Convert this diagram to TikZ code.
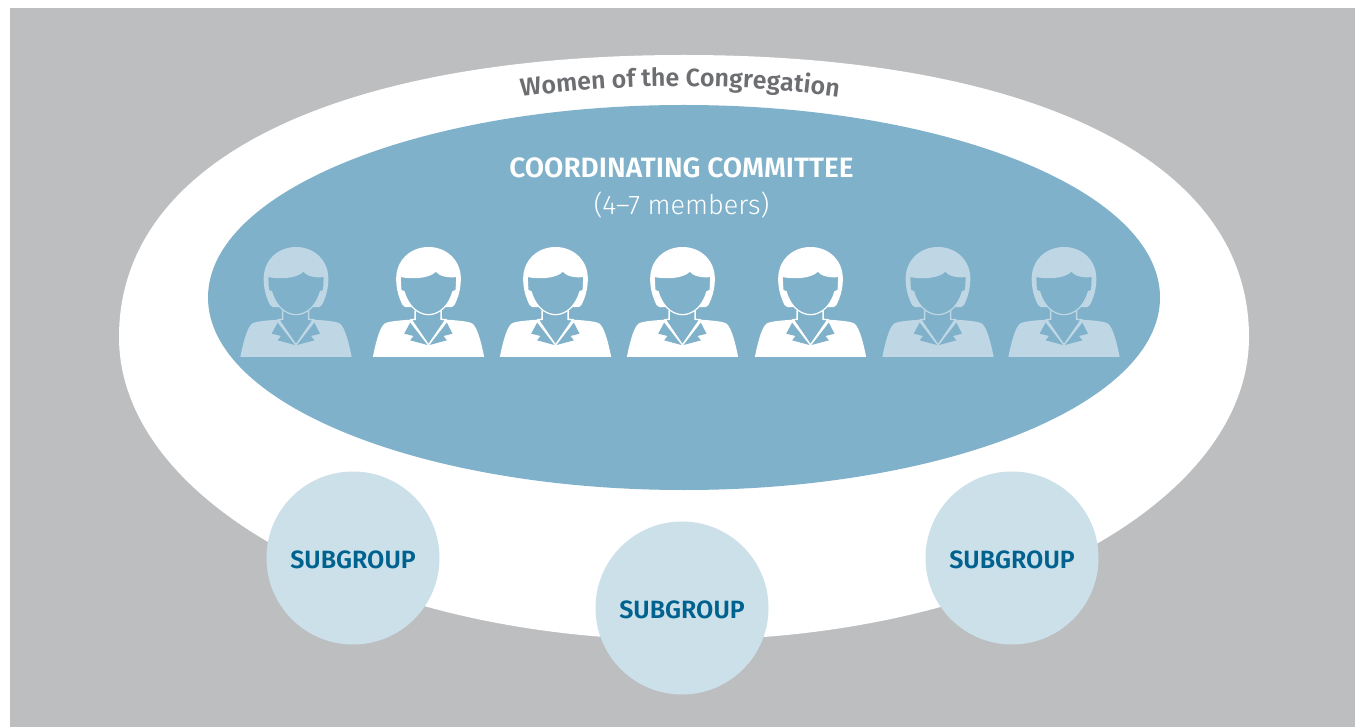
\documentclass[tikz,border=0pt]{standalone}
\usepackage{fontspec}
\setmainfont{Fira Sans}
\newfontfamily\lightfont{Fira Sans Light}
\newfontfamily\mediumfont{Fira Sans SemiBold}
\usetikzlibrary{shapes.geometric,decorations.text}
\definecolor{backgray}{HTML}{BCBEC0}
\definecolor{lakeblue}{HTML}{7FB1CA}
\definecolor{paleblue}{HTML}{CCE0EA}
\definecolor{fadedblue}{HTML}{BFD7E4}
\definecolor{deepblue}{HTML}{00628F}
\definecolor{titlegray}{HTML}{6D6E71}
\tikzset{
  subgroup/.style={circle, fill=paleblue, minimum size=173pt, inner sep=0pt, text=deepblue,
    text height=21.3pt, text depth=0pt, font=\fontsize{25}{30}\selectfont\mediumfont},
  pics/woman/.style={code={
    \begin{scope}[scale=1/3]
      \fill[#1] (-45,-150) -- (-70,-150) .. controls (-74,-150) and (-76,-152) .. (-78,-156)
        .. controls (-90,-180) and (-97,-205) .. (-97,-235)
        .. controls (-97,-290) and (-55,-330) .. (0,-330)
        .. controls (55,-330) and (97,-290) .. (97,-235)
        .. controls (97,-205) and (90,-180) .. (78,-156)
        .. controls (76,-152) and (74,-150) .. (70,-150) -- (45,-150) -- cycle;
      \fill[#1] (-40,-113) .. controls (-80,-110) and (-120,-108) .. (-132,-100)
        .. controls (-148,-88) and (-160,-35) .. (-167,0) -- (167,0)
        .. controls (160,-35) and (148,-88) .. (132,-100)
        .. controls (120,-108) and (80,-110) .. (40,-113) -- cycle;
      \fill[lakeblue] (-40,-150) -- (-40,-113) -- (-50,-110) -- (0,-38) -- (50,-110)
        -- (38,-113) -- (38,-150) -- cycle;
      \draw[#1, line width=1.4pt] (-40,-140) -- (-40,-113) -- (-52,-112) -- (0,-36)
        -- (52,-112) -- (38,-113) -- (38,-140);
      \fill[lakeblue] (-55,-103) -- (-73,-70) -- (-45,-63) -- (-55,-50) -- (-3,-36) -- cycle;
      \fill[lakeblue] (55,-103) -- (72,-70) -- (45,-63) -- (55,-50) -- (3,-36) -- cycle;
      \filldraw[fill=lakeblue, draw=#1, line width=1.2pt] (-85,-242)
        .. controls (-60,-236) and (0,-234) .. (22,-258)
        .. controls (32,-244) and (60,-238) .. (85,-242)
        -- (83,-200) -- (73,-196)
        .. controls (66,-170) and (50,-148) .. (36,-139)
        .. controls (24,-131) and (12,-127) .. (0,-127)
        .. controls (-12,-127) and (-24,-131) .. (-36,-139)
        .. controls (-50,-148) and (-66,-170) .. (-73,-196)
        -- (-83,-200) -- cycle;
    \end{scope}
  }}
}

\begin{document}
\begin{tikzpicture}[x=1pt, y=-1pt]
  \useasboundingbox (0,0) rectangle (1355,727);
  \fill[backgray] (10,8) rectangle (1355,727);
  \fill[white] (119,337) .. controls (119,156) and (345,55) .. (684,55)
    .. controls (1023,55) and (1249,156) .. (1249,337)
    .. controls (1249,504) and (996,640) .. (684,640)
    .. controls (372,640) and (119,504) .. (119,337) -- cycle;
  \node[ellipse, fill=lakeblue, minimum width=952pt, minimum height=385pt, inner sep=0pt] (committee) at (684,297.5) {};
  \path[decorate, decoration={text along path, text align=center,
    text={|\fontsize{25}{30}\mediumfont\color{titlegray}|Women of the Congregation}}]
    (507.5,99) .. controls (617.5,82) and (742.5,82) .. (852.5,99);
  \node[text=white, font=\fontsize{28}{33}\selectfont\mediumfont] (title) at (681.5,168) {COORDINATING COMMITTEE};
  \node[text=white, font=\fontsize{27}{32}\selectfont\lightfont] (members) at (681.5,205) {(4–7 members)};
  \pic (w1) at (296,357) {woman=fadedblue};
  \pic (w2) at (428.5,357) {woman=white};
  \pic (w3) at (555.5,357) {woman=white};
  \pic (w4) at (682.5,357) {woman=white};
  \pic (w5) at (810.5,357) {woman=white};
  \pic (w6) at (938,357) {woman=fadedblue};
  \pic (w7) at (1064,357) {woman=fadedblue};
  \node[subgroup] (sub1) at (353,558) {SUBGROUP};
  \node[subgroup] (sub2) at (682,608) {SUBGROUP};
  \node[subgroup] (sub3) at (1012,558) {SUBGROUP};
\end{tikzpicture}
\end{document}
